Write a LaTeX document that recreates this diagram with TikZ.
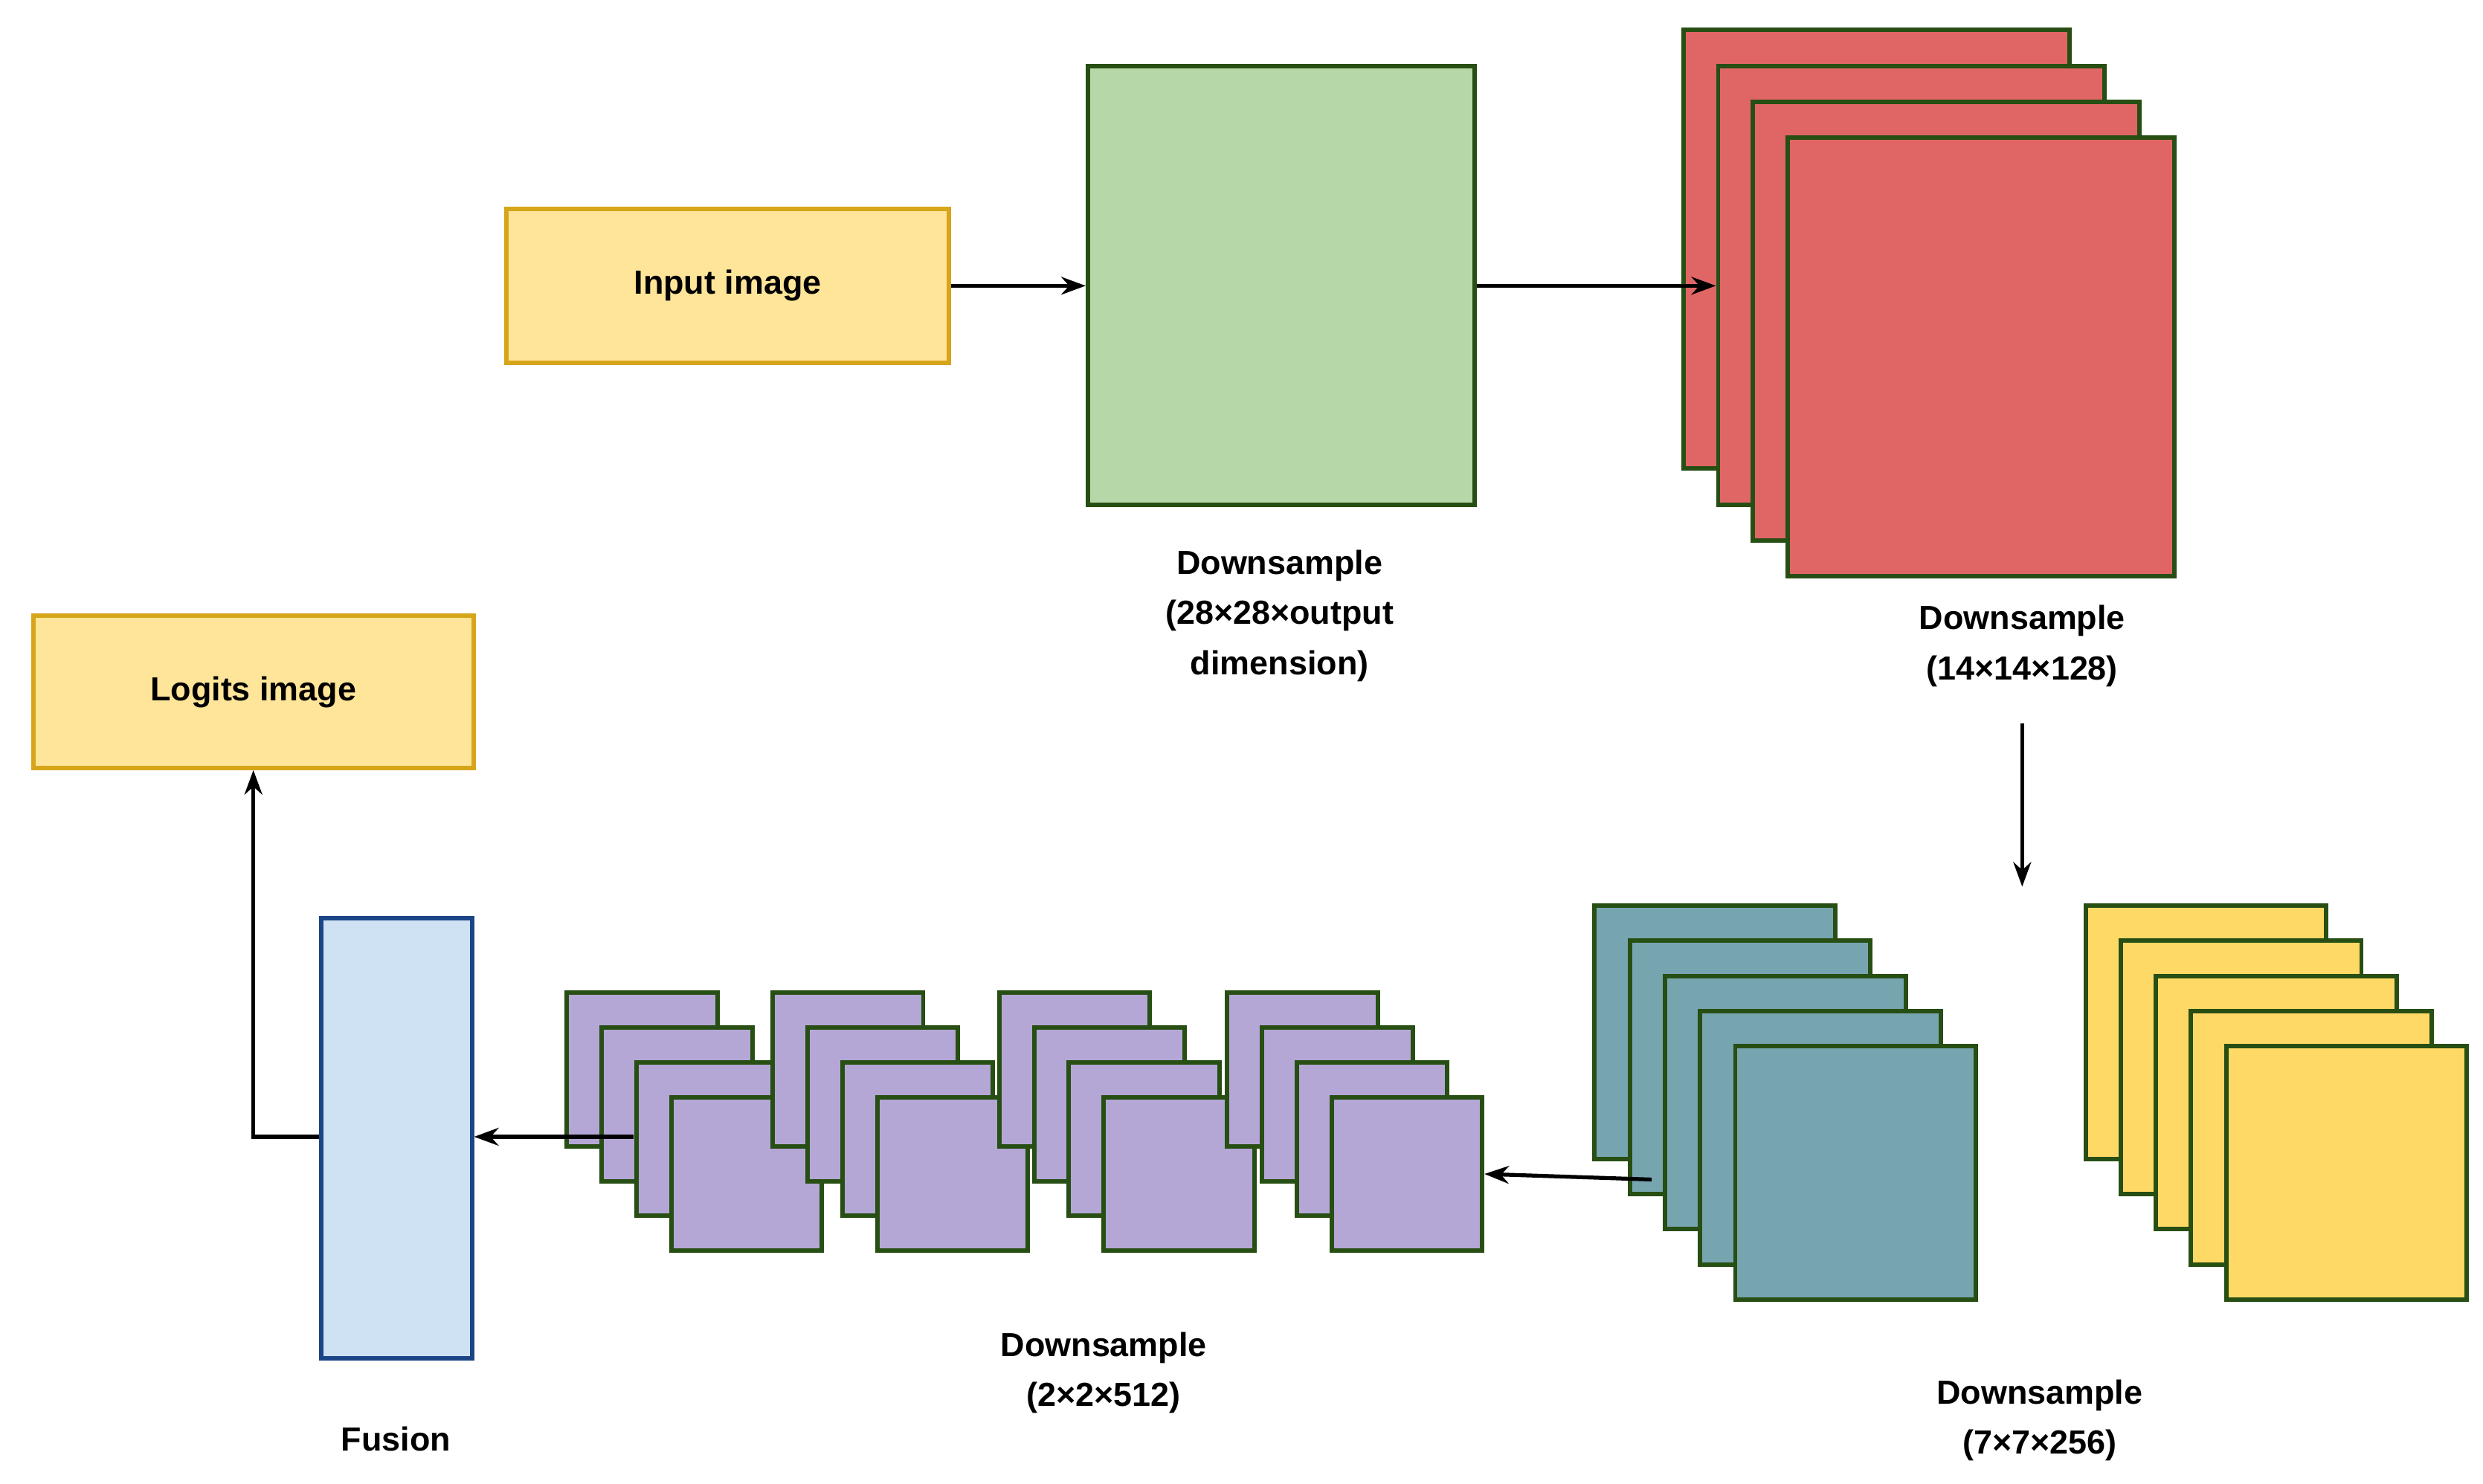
\documentclass[tikz,border=0pt]{standalone}
\usepackage{fontspec}
\setmainfont{Liberation Sans}
\usetikzlibrary{fit,arrows.meta}
\definecolor{inyel}{HTML}{FFE599}
\definecolor{inbrd}{HTML}{D6A51A}
\definecolor{grn}{HTML}{B6D7A8}
\definecolor{dgrn}{HTML}{274E13}
\definecolor{red1}{HTML}{E06666}
\definecolor{teal1}{HTML}{76A5AF}
\definecolor{yel1}{HTML}{FFD966}
\definecolor{pur}{HTML}{B4A7D6}
\definecolor{lblue}{HTML}{CFE2F3}
\definecolor{dblue}{HTML}{1C4587}
\newcommand\bx[6]{\path (#3,#4) coordinate (#1-a) (#5,#6) coordinate (#1-b);
  \node[#2, fit=(#1-a)(#1-b), inner sep=0pt] (#1) {};}
\begin{document}
\begin{tikzpicture}[x=0.05cm,y=-0.05cm,
  box/.style={draw=dgrn, line width=4pt},
  inbox/.style={draw=inbrd, fill=inyel, line width=4pt},
  lbl/.style={font=\fontsize{30}{45}\selectfont\bfseries, align=center},
  arr/.style={line width=3.5pt, -{Stealth[length=22pt,width=16pt]}}]
\useasboundingbox (0,0) rectangle (1568,937);
% input
\bx{inp}{inbox}{320}{132}{599}{229}
\node[lbl] at (inp) {Input image};
\bx{green}{box,fill=grn}{687}{42}{931}{319}
\node[lbl] (lg) at (808,389) {Downsample\\(28×28×output\\dimension)};
% red stack
\foreach \i in {0,1,2,3}{\bx{r\i}{box,fill=red1}{1063+22*\i}{19+22.7*\i}{1307+22*\i}{296+22.7*\i}}
\node[lbl] (lr) at (1277,408) {Downsample\\(14×14×128)};
% teal
\foreach \i in {0,1,2,3,4}{\bx{t\i}{box,fill=teal1}{1007+22.2*\i}{572+22.2*\i}{1159+22.2*\i}{732+22.2*\i}}
\foreach \i in {0,1,2,3,4}{\bx{y\i}{box,fill=yel1}{1317+22.2*\i}{572+22.2*\i}{1469+22.2*\i}{732+22.2*\i}}
\node[lbl] (lt) at (1288,897) {Downsample\\(7×7×256)};
% purple
\foreach \g/\x in {1/358,2/488,3/631,4/775}{
 \foreach \i in {0,1,2,3}{\bx{p\g\i}{box,fill=pur}{\x+22*\i}{627+22*\i}{\x+95+22*\i}{724+22*\i}}}
\node[lbl] (lp) at (697,867) {Downsample\\(2×2×512)};
% fusion
\bx{fus}{draw=dblue,fill=lblue,line width=4pt}{203}{580}{298}{858}
\node[lbl] (lf) at (250,909) {Fusion};
\bx{log}{inbox}{21}{389}{299}{485}
\node[lbl] at (log) {Logits image};
% arrows
\draw[arr] (inp.east) -- (green.west);
\draw[arr] (green.east) -- (r1.west |- green.east);
\coordinate (d1) at (1277,457); \coordinate (d2) at (1277,560);
\draw[arr] (d1) -- (d2);
\coordinate (ts) at (1043,745);
\draw[arr] (ts) -- (p43.east);
\coordinate (ps) at (400,718);
\draw[arr] (ps) -- (fus.east |- ps);
\draw[arr] (fus.west |- ps) -| (log.south);
\end{tikzpicture}
\end{document}
